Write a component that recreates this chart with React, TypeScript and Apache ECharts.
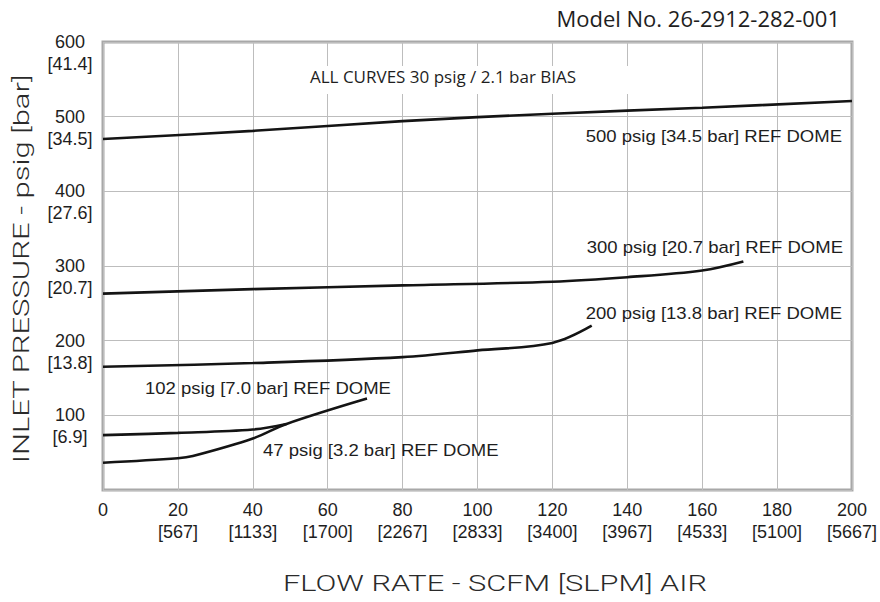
import React, { useEffect, useRef } from 'react';
import * as echarts from 'echarts';

// ---- axis ticks ----
const xTicks = [0, 20, 40, 60, 80, 100, 120, 140, 160, 180, 200];
const xTicksSlpm = ['', '567', '1133', '1700', '2267', '2833', '3400', '3967', '4533', '5100', '5667'];
const yTicks = [100, 200, 300, 400, 500, 600];
const yTicksBar = ['6.9', '13.8', '20.7', '27.6', '34.5', '41.4'];

// ---- curves: [flow SCFM, inlet psig] ----
const curve500 = [[0, 470], [40, 481], [80, 494], [120, 504], [160, 512], [200, 521]];
const curve300 = [[0, 263], [40, 269], [80, 274], [120, 279], [140, 285], [160, 294], [171, 306]];
const curve200 = [[0, 165], [40, 170], [80, 178], [100, 187], [120, 197], [130.5, 220]];
const curve102 = [[0, 73.5], [20, 76.5], [40, 81], [49, 88.5]];
const curve47 = [[0, 36.5], [20, 42.5], [24, 45.5], [40, 69], [49, 88.5], [70.5, 122.5]];

const curveNames = ['500 psig', '300 psig', '200 psig', '102 psig', '47 psig'];
const curveLabels = [
  '500 psig [34.5 bar] REF DOME',
  '300 psig [20.7 bar] REF DOME',
  '200 psig [13.8 bar] REF DOME',
  '102 psig [7.0 bar] REF DOME',
  '47 psig [3.2 bar] REF DOME',
];
const titleModel = 'Model No. 26-2912-282-001';
const noteBias = 'ALL CURVES 30 psig / 2.1 bar BIAS';
const xTitle = 'FLOW RATE - SCFM [SLPM] AIR';
const yTitle = 'INLET PRESSURE - psig [bar]';

const FONT = 'Liberation Sans, Arial, sans-serif';
const TXT = '#1e1e1e';

export default function App() {
  const ref = useRef<HTMLDivElement>(null);
  useEffect(() => {
    document.body.style.margin = '0';
    const chart = echarts.init(ref.current as HTMLDivElement, null, { renderer: 'svg' });
    const curves = [curve500, curve300, curve200, curve102, curve47];
    const labelPos: any[] = [
      { x: 842, y: 136, align: 'right' },
      { x: 843, y: 247, align: 'right' },
      { x: 842, y: 313, align: 'right' },
      { x: 145, y: 388, align: 'left' },
      { x: 263, y: 450, align: 'left' },
    ];
    chart.setOption({
      animation: false,
      backgroundColor: '#ffffff',
      grid: {
        left: 103,
        right: 28,
        top: 42,
        bottom: 112,
        show: true,
        borderColor: '#a8a8a8',
        borderWidth: 3,
        backgroundColor: 'transparent',
        containLabel: false,
      },
      xAxis: {
        type: 'value',
        min: 0,
        max: 200,
        interval: 20,
        axisLine: { show: false },
        axisTick: { show: false },
        splitLine: { show: true, lineStyle: { color: '#bdbdbd', width: 1 } },
        axisLabel: {
          margin: 9,
          fontFamily: FONT,
          fontSize: 18,
          color: TXT,
          formatter: (v: number) => {
            const i = xTicks.indexOf(v);
            if (i < 0) return '';
            return xTicksSlpm[i] ? `{a|${v}}\n{a|[${xTicksSlpm[i]}]}` : `{a|${v}}`;
          },
          rich: { a: { fontFamily: FONT, fontSize: 18, lineHeight: 22, color: TXT } },
        },
      },
      yAxis: {
        type: 'value',
        min: 0,
        max: 600,
        interval: 100,
        axisLine: { show: false },
        axisTick: { show: false },
        splitLine: { show: true, lineStyle: { color: '#bdbdbd', width: 1 } },
        axisLabel: {
          margin: 33,
          align: 'center',
          verticalAlign: 'middle',
          fontFamily: FONT,
          fontSize: 18,
          color: TXT,
          formatter: (v: number) => {
            const i = yTicks.indexOf(v);
            if (i < 0) return '';
            return `{a| }\n{a|${v}}\n{a|[${yTicksBar[i]}]}`;
          },
          rich: { a: { fontFamily: FONT, fontSize: 18, lineHeight: 22, color: TXT, align: 'center' } },
        },
      },
      series: curves.map((d, i) => ({
        name: curveNames[i],
        type: 'line',
        data: d,
        showSymbol: false,
        smooth: 0.35,
        lineStyle: { color: '#141414', width: 2.6 },
        z: 3,
      })),
      graphic: [
        { type: 'rect', z: 1, shape: { x: 300, y: 66, width: 340, height: 28 }, style: { fill: '#ffffff' } },
        {
          type: 'text', z: 5, x: 310, y: 76,
          style: { text: noteBias, font: '17px "Open Sans", sans-serif', fill: TXT, textAlign: 'left', textVerticalAlign: 'middle' },
        },
        {
          type: 'text', z: 5, x: 840, y: 18,
          style: { text: titleModel, font: '22px "Open Sans", sans-serif', fill: TXT, textAlign: 'right', textVerticalAlign: 'middle' },
        },
        {
          type: 'text', z: 5, x: 495, y: 584, scaleX: 1.4,
          style: { text: xTitle, font: '300 22px Roboto, "Liberation Sans", sans-serif', fill: '#2a2a2a', textAlign: 'center', textVerticalAlign: 'middle' },
        },
        {
          type: 'text', z: 5, x: 22, y: 269, rotation: Math.PI / 2, scaleX: 1.41,
          style: { text: yTitle, font: '300 22px Roboto, "Liberation Sans", sans-serif', fill: '#2a2a2a', textAlign: 'center', textVerticalAlign: 'middle' },
        },
        ...curveLabels.map((t, i) => ({
          type: 'text', z: 5, x: labelPos[i].x, y: labelPos[i].y, scaleX: 1.09,
          style: { text: t, font: '17px "Liberation Sans", sans-serif', fill: TXT, textAlign: labelPos[i].align, textVerticalAlign: 'middle' },
        })),
      ],
    });
    return () => chart.dispose();
  }, []);
  return <div ref={ref} style={{ width: 880, height: 602 }} />;
}
